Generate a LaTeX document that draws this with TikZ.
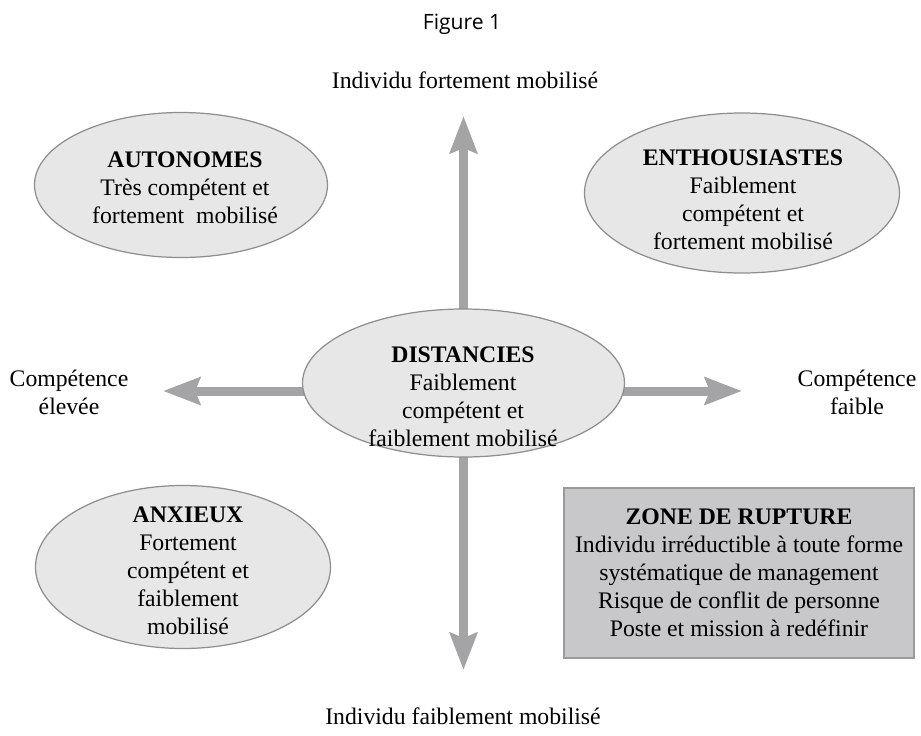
\documentclass[tikz,border=0pt]{standalone}
\usepackage{fontspec}
\setmainfont{Liberation Serif}
\newfontfamily\titlefont{Open Sans}
\usetikzlibrary{arrows.meta,shapes.geometric,backgrounds}

\definecolor{blobfill}{HTML}{E7E7E8}
\definecolor{blobline}{HTML}{8E8E90}
\definecolor{zonefill}{HTML}{C8C8CA}
\definecolor{zoneline}{HTML}{9A9A9C}
\definecolor{axisgray}{HTML}{A4A4A7}

\tikzset{every node/.style={font=\fontsize{13.5}{15.9}\selectfont}}

\begin{document}
\begin{tikzpicture}[x=0.02cm, y=-0.02cm,
  blob/.style={ellipse, draw=blobline, fill=blobfill, line width=0.7pt, inner sep=0pt},
  zone/.style={rectangle, draw=zoneline, fill=zonefill, line width=1pt, inner sep=0pt, align=center},
  blobtext/.style={align=center},
  axis/.style={draw=axisgray, line width=0.18cm, -{Stealth[length=0.74cm, width=0.54cm, inset=0.1cm]}}]

\useasboundingbox (0,0) rectangle (921,735);

\node[font=\titlefont\fontsize{12}{14}\selectfont] (title) at (462,24) {Figure 1};

% the four groups
\foreach \n/\x/\y/\w/\h in {autonomes/181/185/293/145, enthousiastes/742/193/315/160,
    distancies/463.5/383/322/148, anxieux/183/567/295/163}
  \node[blob, minimum width=\w*0.02cm, minimum height=\h*0.02cm] (\n) at (\x,\y) {};

\node[blobtext] (autonomes-text) at (185,188)
  {\textbf{AUTONOMES}\\ Très compétent et\\ fortement~ mobilisé};
\node[blobtext] (enthousiastes-text) at (743,200)
  {\textbf{ENTHOUSIASTES}\\ Faiblement\\ compétent et\\ fortement mobilisé};
\node[blobtext] (distancies-text) at (463,397)
  {\textbf{DISTANCIES}\\ Faiblement\\ compétent et\\ faiblement mobilisé};
\node[blobtext] (anxieux-text) at (188,571)
  {\textbf{ANXIEUX}\\ Fortement\\ compétent et\\ faiblement\\ mobilisé};

\node[zone, minimum width=350*0.02cm, minimum height=170*0.02cm] (rupture) at (739,573)
  {\textbf{ZONE DE RUPTURE}\\ Individu irréductible à toute forme\\ systématique de management\\
   Risque de conflit de personne\\ Poste et mission à redéfinir};

% axes
\coordinate (up-tip) at (463.5,116);
\coordinate (down-tip) at (463.5,670);
\coordinate (left-tip) at (163,391);
\coordinate (right-tip) at (742,391);

\begin{scope}[on background layer]
\draw[axis] (distancies.center) -- (up-tip);
\draw[axis] (distancies.center) -- (down-tip);
\draw[axis] (distancies.center |- left-tip) -- (left-tip);
\draw[axis] (distancies.center |- right-tip) -- (right-tip);
\end{scope}

\node[anchor=base] (high-mob) at (465,88) {Individu fortement mobilisé};
\node[anchor=base] (low-mob) at (463,724) {Individu faiblement mobilisé};
\node[align=center] (high-comp) at (69,392) {Compétence\\ élevée};
\node[align=center] (low-comp) at (857,392) {Compétence\\ faible};
\end{tikzpicture}
\end{document}
